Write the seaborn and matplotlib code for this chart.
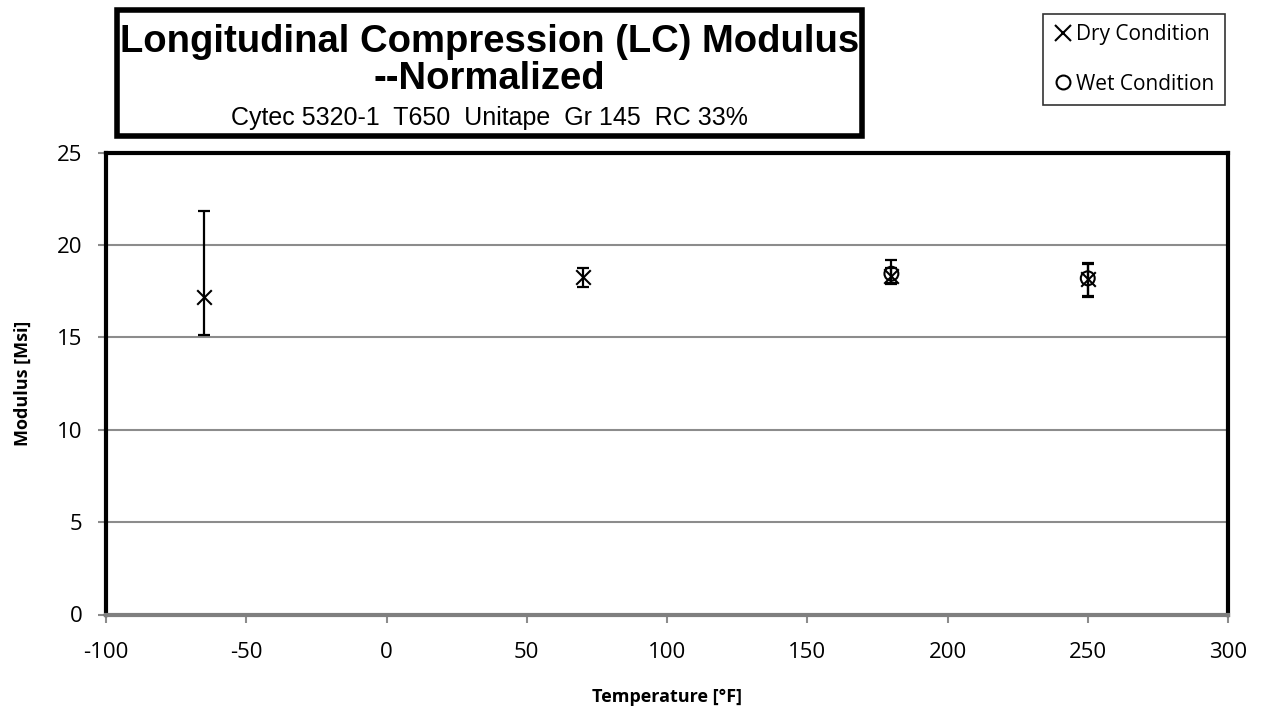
import matplotlib
matplotlib.use("Agg")
import matplotlib.pyplot as plt
from matplotlib.patches import Rectangle
from matplotlib.lines import Line2D
import seaborn as sns
import pandas as pd

# Test temperatures [°F] and normalized moduli [Msi]
dry_temp = [-65, 70, 180, 250]
dry_mod = [17.2, 18.27, 18.35, 18.15]
dry_err_lo = [2.05, 0.55, 0.45, 0.95]
dry_err_hi = [4.65, 0.48, 0.40, 0.85]

wet_temp = [180, 250]
wet_mod = [18.45, 18.2]
wet_err_lo = [0.5, 0.95]
wet_err_hi = [0.75, 0.85]

x_ticks = [-100, -50, 0, 50, 100, 150, 200, 250, 300]
y_ticks = [0, 5, 10, 15, 20, 25]

sns.set_theme(style="white")
plt.rcParams["font.family"] = ["Open Sans", "DejaVu Sans"]
plt.rcParams["text.color"] = "black"
plt.rcParams["axes.labelcolor"] = "black"
plt.rcParams["xtick.color"] = "black"
plt.rcParams["ytick.color"] = "black"

fig = plt.figure(figsize=(12.62, 7.13), dpi=100)
W, H = 1262, 713
ax = fig.add_axes([106 / W, 1 - 614.5 / H, (1228 - 106) / W, (614.5 - 152.7) / H])

df = pd.DataFrame({
    "Temperature": dry_temp + wet_temp,
    "Modulus": dry_mod + wet_mod,
    "Condition": ["Dry Condition"] * len(dry_temp) + ["Wet Condition"] * len(wet_temp),
})

ax.errorbar(dry_temp, dry_mod, yerr=[dry_err_lo, dry_err_hi], fmt="none",
            ecolor="black", elinewidth=1.6, capsize=4.5, capthick=1.6, zorder=3)
ax.errorbar(wet_temp, wet_mod, yerr=[wet_err_lo, wet_err_hi], fmt="none",
            ecolor="black", elinewidth=1.6, capsize=4.5, capthick=1.6, zorder=3)

sns.scatterplot(data=df[df.Condition == "Dry Condition"], x="Temperature", y="Modulus",
                marker="x", s=110, color="black", linewidth=1.5, ax=ax, zorder=4, legend=False)
sns.scatterplot(data=df[df.Condition == "Wet Condition"], x="Temperature", y="Modulus",
                marker="o", s=100, facecolor="none", edgecolor="black", linewidth=1.5,
                ax=ax, zorder=4, legend=False)

ax.set_xlim(-100, 300)
ax.set_ylim(0, 25)
ax.set_xticks(x_ticks)
ax.set_yticks(y_ticks)
ax.set_xticklabels([str(v) for v in x_ticks], fontsize=16)
ax.set_yticklabels([str(v) for v in y_ticks], fontsize=16)
ax.grid(axis="y", color="#8c8c8c", linewidth=1.5)
ax.grid(axis="x", visible=False)
ax.tick_params(axis="both", direction="out", length=6, width=1.5, color="#8c8c8c",
               bottom=True, left=True, labelcolor="black")
ax.tick_params(axis="x", pad=14)
ax.tick_params(axis="y", pad=11)

for side in ["top", "left", "right"]:
    ax.spines[side].set_color("black")
    ax.spines[side].set_linewidth(3)
ax.spines["bottom"].set_color("#7f7f7f")
ax.spines["bottom"].set_linewidth(3)

ax.set_xlabel("Temperature [°F]", fontsize=13, fontweight="bold", labelpad=18)
ax.set_ylabel("Modulus [Msi]", fontsize=13, fontweight="bold", labelpad=18)

# Title box
fig.patches.append(Rectangle((117 / W, 1 - 136 / H), (862 - 117) / W, (136 - 10) / H,
                             transform=fig.transFigure, fill=False, edgecolor="black",
                             linewidth=4, zorder=5))
title_font = ["Liberation Sans Narrow", "Liberation Sans", "DejaVu Sans"]
cx = (117 + 862) / 2 / W
fig.text(cx, 1 - 42 / H, "Longitudinal Compression (LC) Modulus", ha="center", va="center",
         fontsize=27.5, fontweight="bold", family=title_font)
fig.text(cx, 1 - 79 / H, "--Normalized", ha="center", va="center",
         fontsize=27.5, fontweight="bold", family=title_font)
fig.text(cx, 1 - 118 / H, "Cytec 5320-1  T650  Unitape  Gr 145  RC 33%", ha="center",
         va="center", fontsize=18, family=title_font)

# Legend
handles = [
    Line2D([], [], linestyle="none", marker="x", markersize=11, color="black",
           markeredgewidth=1.5, label="Dry Condition"),
    Line2D([], [], linestyle="none", marker="o", markersize=10, markerfacecolor="none",
           markeredgecolor="black", markeredgewidth=1.5, label="Wet Condition"),
]
leg = fig.legend(handles=handles, loc="upper right", bbox_to_anchor=(1225 / W, 1 - 14 / H),
                 fontsize=15, frameon=True, fancybox=False, edgecolor="black",
                 handletextpad=0.2, handlelength=0.9, borderpad=0.5, labelspacing=1.35,
                 borderaxespad=0)
leg.get_frame().set_linewidth(1.2)

fig.savefig("out.png", dpi=100)
